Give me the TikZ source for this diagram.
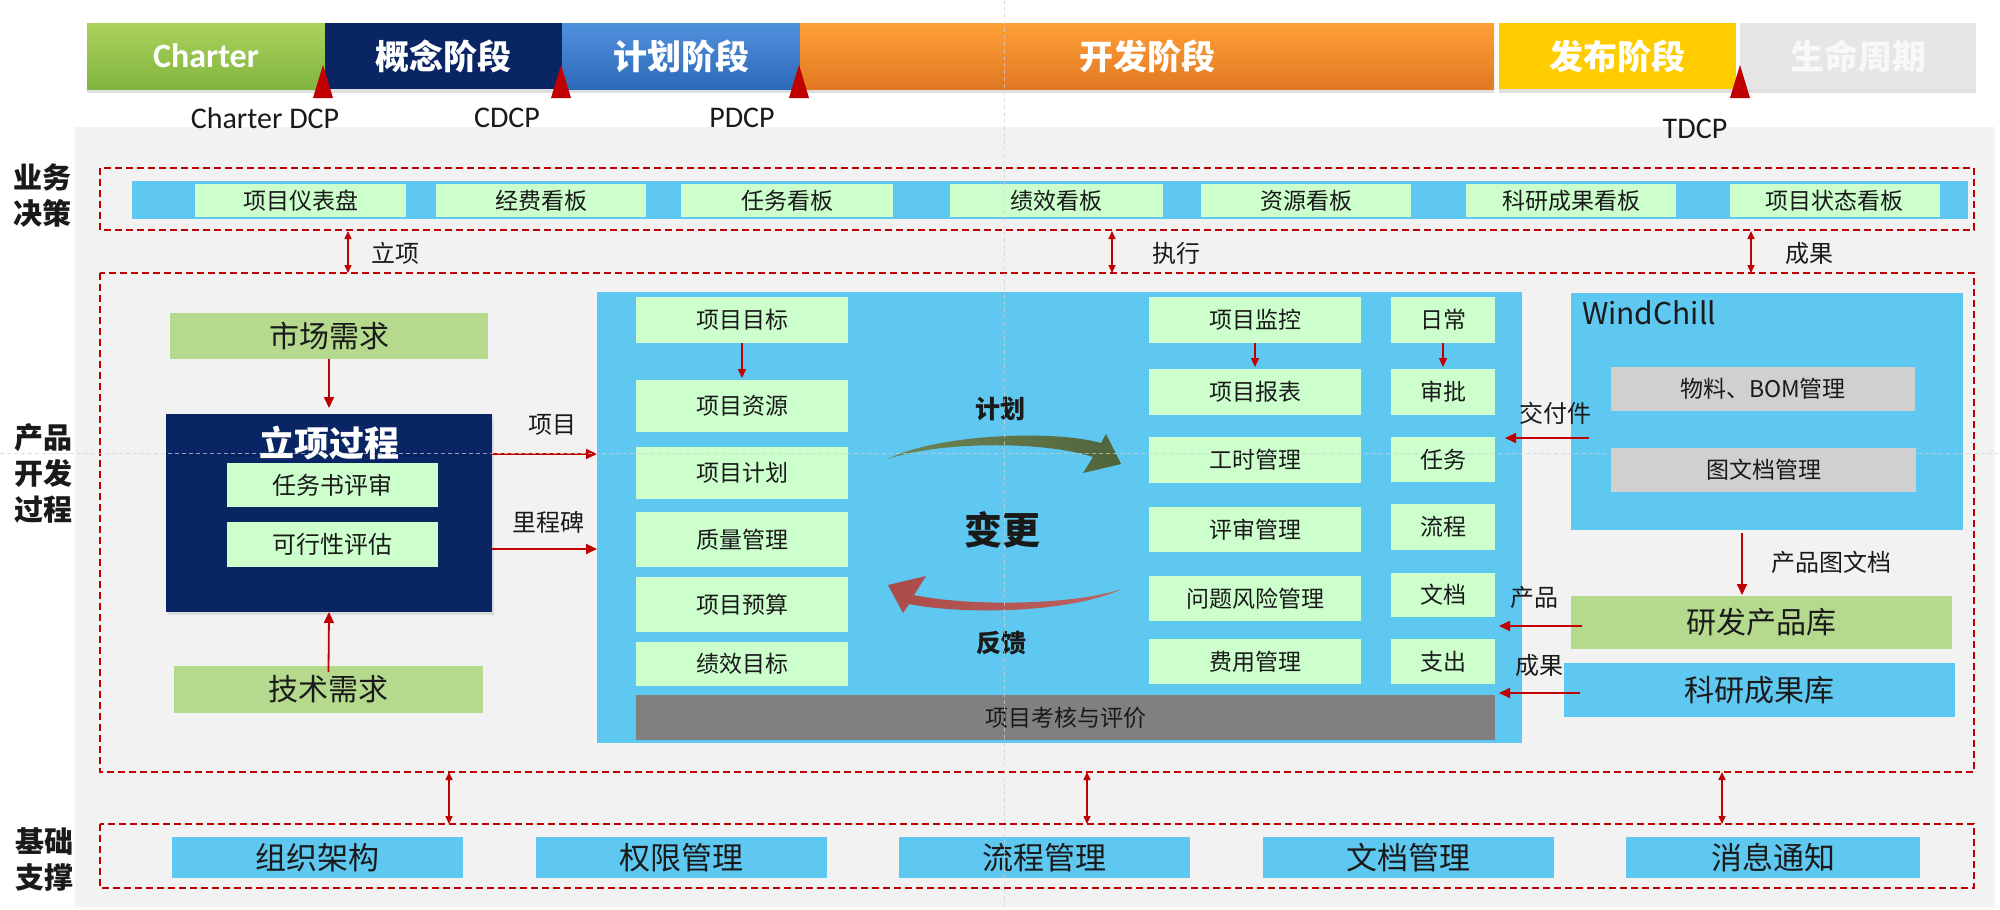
\documentclass[tikz,border=0pt]{standalone}
\usepackage{fontspec}
\setmainfont{Noto Sans CJK SC}
\newfontfamily\lat{Carlito}
\usetikzlibrary{arrows.meta,shadows,calc}
\definecolor{dred}{HTML}{C00000}
\definecolor{sky}{HTML}{5EC8F0}
\definecolor{pale}{HTML}{CCFFCC}
\definecolor{lgreen}{HTML}{B5DA8E}
\definecolor{navy}{HTML}{0A2563}
\definecolor{bggray}{HTML}{F2F2F2}
\definecolor{midgray}{HTML}{808080}
\definecolor{wgray}{HTML}{D0D0D0}
\definecolor{txt}{HTML}{1A1A1A}
\definecolor{guide}{HTML}{D0D0D0}
\begin{document}
\begin{tikzpicture}[x=1pt,y=-1pt,
  every node/.style={inner sep=0pt,outer sep=0pt,text=txt},
  seg/.style={rectangle,minimum height=66pt,font=\fontsize{34pt}{38pt}\selectfont\bfseries,text=white,
     drop shadow={shadow xshift=0pt,shadow yshift=-4pt,opacity=0.25}},
  dcp/.style={font=\lat\fontsize{30pt}{34pt}\selectfont},
  tri/.style={fill=dred,draw=none},
  dbox/.style={draw=dred,line width=1.6pt,dash pattern=on 7pt off 4pt},
  pbox/.style={rectangle,fill=pale,font=\fontsize{23pt}{27pt}\selectfont},
  gbox/.style={rectangle,fill=lgreen,font=\fontsize{30pt}{34pt}\selectfont},
  sbox/.style={rectangle,fill=sky,font=\fontsize{31pt}{35pt}\selectfont},
  wbox/.style={rectangle,fill=wgray,font=\fontsize{23pt}{27pt}\selectfont},
  side/.style={font=\fontsize{29pt}{36pt}\selectfont\bfseries,align=center},
  lab/.style={font=\fontsize{24pt}{28pt}\selectfont},
  rarr/.style={draw=dred,line width=1.8pt,-{Triangle[length=11pt,width=10pt]}},
  darr/.style={draw=dred,line width=1.5pt,{Triangle[length=8pt,width=7pt]}-{Triangle[length=8pt,width=7pt]}},
  guideline/.style={draw=guide,line width=0.8pt,dash pattern=on 4pt off 3pt,opacity=0.7}
]
\fill[white] (0,0) rectangle (2000,910);
\useasboundingbox (0,0) rectangle (2000,910);
\fill[bggray] (75,127) rectangle (1995,907);

% ---- top phase bar ----
\node[seg,minimum width=238pt,top color={rgb,255:red,170;green,210;blue,90},bottom color={rgb,255:red,130;green,180;blue,65}] (ph1) at (206,56) {\lat\bfseries Charter};
\node[seg,minimum width=237pt,fill=navy] (ph2) at (443.5,56) {概念阶段};
\node[seg,minimum width=238pt,top color={rgb,255:red,80;green,145;blue,220},bottom color={rgb,255:red,45;green,105;blue,185}] (ph3) at (681,56) {计划阶段};
\node[seg,minimum width=694pt,top color={rgb,255:red,255;green,160;blue,55},bottom color={rgb,255:red,225;green,120;blue,35}] (ph4) at (1147,56) {开发阶段};
\node[seg,minimum width=237pt,fill={rgb,255:red,255;green,204;blue,0}] (ph5) at (1617.5,56) {发布阶段};
\node[seg,minimum width=236pt,fill={rgb,255:red,230;green,230;blue,230},text={rgb,255:red,248;green,248;blue,248}] (ph6) at (1858,56) {生命周期};

% milestone triangles
\fill[tri] (323,65) -- (333,98) -- (313,98) -- cycle;
\fill[tri] (561,65) -- (571,98) -- (551,98) -- cycle;
\fill[tri] (799,65) -- (809,98) -- (789,98) -- cycle;
\fill[tri] (1740,65) -- (1750,98) -- (1730,98) -- cycle;
\node[dcp] (d1) at (265,118) {Charter DCP};
\node[dcp] (d2) at (507,118) {CDCP};
\node[dcp] (d3) at (742,118) {PDCP};
\node[dcp] (d4) at (1695,129) {TDCP};

% ---- side labels ----
\node[side] (s1) at (42,195) {业务\\决策};
\node[side] (s2) at (43,473) {产品\\开发\\过程};
\node[side] (s3) at (44,860) {基础\\支撑};

% ---- business decision row ----
\draw[dbox] (100,168) rectangle (1974,230);
\fill[sky] (132,181) rectangle (1968,219);
\node[pbox,minimum width=211pt,minimum height=33pt] (b1) at (300.5,200.5) {项目仪表盘};
\node[pbox,minimum width=210pt,minimum height=33pt] (b2) at (541,200.5) {经费看板};
\node[pbox,minimum width=212pt,minimum height=33pt] (b3) at (787,200.5) {任务看板};
\node[pbox,minimum width=213pt,minimum height=33pt] (b4) at (1056.5,200.5) {绩效看板};
\node[pbox,minimum width=210pt,minimum height=33pt] (b5) at (1306,200.5) {资源看板};
\node[pbox,minimum width=210pt,minimum height=33pt] (b6) at (1571,200.5) {科研成果看板};
\node[pbox,minimum width=210pt,minimum height=33pt] (b7) at (1834.5,200.5) {项目状态看板};

% ---- product development row ----
\draw[dbox] (100,273) rectangle (1974,772);
\coordinate (t1) at (348,231); \coordinate (u1) at (348,273);
\coordinate (t2) at (1112,231); \coordinate (u2) at (1112,273);
\coordinate (t3) at (1751,231); \coordinate (u3) at (1751,273);
\draw[darr] (t1) -- (u1);
\draw[darr] (t2) -- (u2);
\draw[darr] (t3) -- (u3);
\node[lab] (l1) at (395,253) {立项};
\node[lab] (l2) at (1176,253) {执行};
\node[lab] (l3) at (1809,253) {成果};

% left: initiation
\node[gbox,minimum width=318pt,minimum height=46pt] (scxq) at (329,336) {市场需求};
\node[rectangle,fill=navy,minimum width=326pt,minimum height=198pt,drop shadow={shadow xshift=2pt,shadow yshift=-3pt,opacity=0.2}] (lxgc) at (329,513) {};
\node[font=\fontsize{35pt}{38pt}\selectfont\bfseries,text=white] (lxt) at (329,443) {立项过程};
\node[pbox,minimum width=211pt,minimum height=44pt,font=\fontsize{24pt}{28pt}\selectfont] (rws) at (332.5,485) {任务书评审};
\node[pbox,minimum width=211pt,minimum height=45pt,font=\fontsize{24pt}{28pt}\selectfont] (kxx) at (332.5,544.5) {可行性评估};
\node[gbox,minimum width=309pt,minimum height=47pt] (jsxq) at (328.5,689.5) {技术需求};
\draw[rarr] (scxq.south) -- ([yshift=6pt]lxgc.north);
\draw[rarr] ([yshift=-6pt]jsxq.north) -- (lxgc.south);

% middle block
\node[rectangle,fill=sky,minimum width=925pt,minimum height=451pt] (mid) at (1059.5,517.5) {};
\draw[rarr] ([yshift=59pt]lxgc.east) -- ([yshift=59pt]lxgc.east -| mid.west);
\draw[rarr] ([yshift=-36pt]lxgc.east) -- ([yshift=-36pt]lxgc.east -| mid.west);
\node[lab] (xm) at (552,425) {项目};
\node[lab] (lcb) at (548,522) {里程碑};

\node[pbox,minimum width=212pt,minimum height=46pt] (m1) at (742,320) {项目目标};
\node[pbox,minimum width=212pt,minimum height=52pt] (m2) at (742,406) {项目资源};
\node[pbox,minimum width=212pt,minimum height=52pt] (m3) at (742,473) {项目计划};
\node[pbox,minimum width=212pt,minimum height=55pt] (m4) at (742,539.5) {质量管理};
\node[pbox,minimum width=212pt,minimum height=55pt] (m5) at (742,604.5) {项目预算};
\node[pbox,minimum width=212pt,minimum height=44pt] (m6) at (742,664) {绩效目标};
\draw[rarr,line width=1.5pt,-{Triangle[length=9pt,width=8pt]}] (m1.south) -- ([yshift=2pt]m2.north);

\node[pbox,minimum width=212pt,minimum height=46pt] (r1) at (1255,320) {项目监控};
\node[pbox,minimum width=212pt,minimum height=46pt] (r2) at (1255,392) {项目报表};
\node[pbox,minimum width=212pt,minimum height=46pt] (r3) at (1255,460) {工时管理};
\node[pbox,minimum width=212pt,minimum height=45pt] (r4) at (1255,529.5) {评审管理};
\node[pbox,minimum width=212pt,minimum height=45pt] (r5) at (1255,598.5) {问题风险管理};
\node[pbox,minimum width=212pt,minimum height=45pt] (r6) at (1255,661.5) {费用管理};
\node[pbox,minimum width=104pt,minimum height=46pt] (q1) at (1443,320) {日常};
\node[pbox,minimum width=104pt,minimum height=46pt] (q2) at (1443,392) {审批};
\node[pbox,minimum width=104pt,minimum height=45pt] (q3) at (1443,459.5) {任务};
\node[pbox,minimum width=104pt,minimum height=46pt] (q4) at (1443,527) {流程};
\node[pbox,minimum width=104pt,minimum height=44pt] (q5) at (1443,595) {文档};
\node[pbox,minimum width=104pt,minimum height=45pt] (q6) at (1443,661.5) {支出};
\draw[rarr,line width=1.5pt,-{Triangle[length=9pt,width=8pt]}] (r1.south) -- ([yshift=2pt]r2.north);
\draw[rarr,line width=1.5pt,-{Triangle[length=9pt,width=8pt]}] (q1.south) -- ([yshift=2pt]q2.north);

\node[rectangle,fill=midgray,minimum width=859pt,minimum height=45pt,font=\fontsize{23pt}{27pt}\selectfont] (khpj) at (1065.5,717.5) {项目考核与评价};

% cycle arrows
\shade[left color={rgb,255:red,110;green,135;blue,85},right color={rgb,255:red,80;green,100;blue,60}]
  (888,459) .. controls (935,435) and (1050,429) .. (1101,443) -- (1106,434) -- (1121,464) -- (1083,473) -- (1093,457)
  .. controls (1045,441) and (940,441) .. (888,459) -- cycle;
\shade[left color={rgb,255:red,170;green,75;blue,72},right color={rgb,255:red,190;green,100;blue,98}]
  (1122,589) .. controls (1070,613) and (965,615) .. (909,604) -- (903,613) -- (888,585) -- (926,576) -- (914,595)
  .. controls (965,606) and (1070,606) .. (1122,589) -- cycle;
\node[font=\fontsize{25pt}{28pt}\selectfont\bfseries] (jh) at (1000,409) {计划};
\node[font=\fontsize{38pt}{41pt}\selectfont\bfseries] (bg) at (1002,530) {变更};
\node[font=\fontsize{25pt}{28pt}\selectfont\bfseries] (fk) at (1001,643) {反馈};

% right: WindChill
\node[rectangle,fill=sky,minimum width=392pt,minimum height=237pt] (wc) at (1767,411.5) {};
\node[anchor=west,font=\fontsize{30pt}{34pt}\selectfont] (wct) at (1582,313) {WindChill};
\node[wbox,minimum width=304pt,minimum height=44pt] (bom) at (1763,389) {物料、BOM管理};
\node[wbox,minimum width=305pt,minimum height=44pt] (twd) at (1763.5,470) {图文档管理};
\node[gbox,minimum width=381pt,minimum height=53pt] (yfk) at (1761.5,622.5) {研发产品库};
\node[sbox,minimum width=391pt,minimum height=54pt,font=\fontsize{30pt}{34pt}\selectfont] (kyk) at (1759.5,690) {科研成果库};
\draw[rarr] ([xshift=18pt,yshift=-26.5pt]wc.west) -- ([xshift=-17pt,yshift=-26.5pt]wc.west -| mid.east);
\draw[rarr] ([xshift=11pt,yshift=-3.5pt]yfk.west) -- ([xshift=-23pt,yshift=-3.5pt]yfk.west -| mid.east);
\draw[rarr] ([xshift=16pt,yshift=-3pt]kyk.west) -- ([xshift=-23pt,yshift=-3pt]kyk.west -| mid.east);
\draw[rarr] ([xshift=-25pt,yshift=-3pt]wc.south) -- ([xshift=-25pt,yshift=1pt]wc.south |- yfk.north);
\node[lab] (jfj) at (1555,413) {交付件};
\node[lab] (cp) at (1534,597) {产品};
\node[lab] (cg) at (1539,665) {成果};
\node[lab] (cptwd) at (1831,562) {产品图文档};

% ---- foundation row ----
\draw[dbox] (100,824) rectangle (1974,888);
\coordinate (v1) at (449,772); \coordinate (w1) at (449,824);
\coordinate (v2) at (1087,772); \coordinate (w2) at (1087,824);
\coordinate (v3) at (1722,772); \coordinate (w3) at (1722,824);
\draw[darr] (v1) -- (w1);
\draw[darr] (v2) -- (w2);
\draw[darr] (v3) -- (w3);
\node[sbox,minimum width=291pt,minimum height=41pt] (f1) at (317.5,857.5) {组织架构};
\node[sbox,minimum width=291pt,minimum height=41pt] (f2) at (681.5,857.5) {权限管理};
\node[sbox,minimum width=291pt,minimum height=41pt] (f3) at (1044.5,857.5) {流程管理};
\node[sbox,minimum width=291pt,minimum height=41pt] (f4) at (1408.5,857.5) {文档管理};
\node[sbox,minimum width=294pt,minimum height=41pt] (f5) at (1773,857.5) {消息通知};

% faint guide lines
\draw[guideline] (0,453) -- (2000,453);
\draw[guideline] (1004,0) -- (1004,910);
\end{tikzpicture}
\end{document}
